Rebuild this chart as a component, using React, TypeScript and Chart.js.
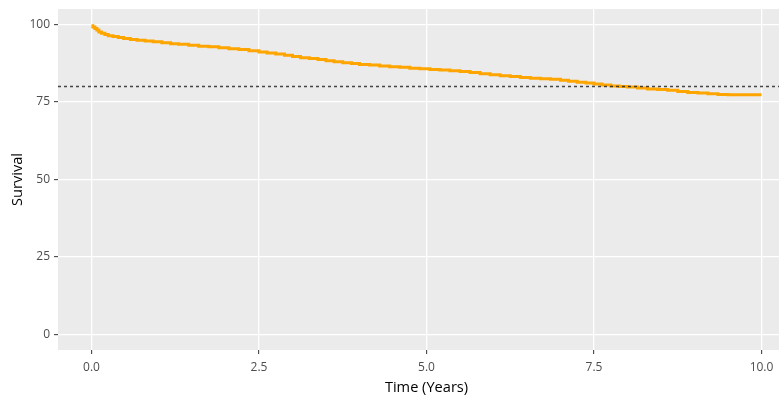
import React, { useEffect, useRef } from "react";
import { Chart, registerables } from "chart.js";

Chart.register(...registerables);

// Kaplan-Meier style survival curve (percent)
const timeYears = [
  0, 0.02, 0.05, 0.08, 0.11, 0.15, 0.2, 0.25, 0.32, 0.4, 0.48, 0.58, 0.68, 0.8, 0.92,
  1.05, 1.18, 1.3, 1.45, 1.6, 1.75, 1.9, 2.05, 2.2, 2.35, 2.5, 2.62, 2.75, 2.88, 3.0,
  3.12, 3.25, 3.38, 3.5, 3.62, 3.75, 3.88, 4.0, 4.15, 4.3, 4.45, 4.6, 4.75, 4.9, 5.05,
  5.2, 5.35, 5.5, 5.65, 5.8, 5.95, 6.1, 6.25, 6.4, 6.55, 6.7, 6.85, 7.0, 7.12, 7.25,
  7.38, 7.5, 7.62, 7.75, 7.88, 8.0, 8.15, 8.3, 8.45, 8.6, 8.75, 8.9, 9.05, 9.2, 9.35,
  9.5, 10.0,
];
const survival = [
  99.6, 99.2, 98.7, 98.2, 97.6, 97.2, 96.8, 96.4, 96.1, 95.8, 95.5, 95.2, 94.9, 94.7, 94.4,
  94.1, 93.8, 93.6, 93.3, 93.0, 92.8, 92.5, 92.2, 91.9, 91.5, 91.1, 90.8, 90.5, 90.1, 89.7,
  89.3, 89.0, 88.7, 88.3, 88.0, 87.7, 87.4, 87.1, 86.9, 86.6, 86.4, 86.2, 85.9, 85.7, 85.5,
  85.3, 85.1, 84.8, 84.5, 84.1, 83.8, 83.5, 83.2, 82.9, 82.7, 82.5, 82.3, 82.0, 81.7, 81.4,
  81.1, 80.8, 80.5, 80.2, 80.0, 79.8, 79.5, 79.2, 79.0, 78.8, 78.4, 78.1, 77.9, 77.7, 77.4,
  77.3, 77.3,
];
const referenceLine = 80;
const xRange = [-0.5, 10.5];
const yRange = [-5, 105];
const xTicks = [0, 2.5, 5, 7.5, 10];
const yTicks = [0, 25, 50, 75, 100];
const xTitle = "Time (Years)";
const yTitle = "Survival";

const FONT = "'Open Sans', 'Noto Sans', sans-serif";

const panelBg = {
  id: "panelBg",
  beforeDraw(chart: any) {
    const { ctx, chartArea } = chart;
    if (!chartArea) return;
    ctx.save();
    ctx.fillStyle = "#EBEBEB";
    ctx.fillRect(chartArea.left, chartArea.top, chartArea.right - chartArea.left, chartArea.bottom - chartArea.top);
    ctx.restore();
  },
};

export default function App() {
  const ref = useRef<HTMLCanvasElement | null>(null);

  useEffect(() => {
    document.body.style.margin = "0";
    const canvas = ref.current;
    if (!canvas) return;
    const chart = new Chart(canvas, {
      type: "line",
      data: {
        datasets: [
          {
            label: "ref",
            data: xRange.map((x) => ({ x, y: referenceLine })),
            borderColor: "rgba(40,40,40,0.85)",
            borderWidth: 1.5,
            borderDash: [3, 3],
            pointRadius: 0,
            fill: false,
          },
          {
            label: "survival",
            data: timeYears.map((t, i) => ({ x: t, y: survival[i] })),
            borderColor: "#FFA500",
            borderWidth: 3,
            stepped: true,
            pointRadius: 0,
            fill: false,
          },
        ],
      },
      options: {
        animation: false,
        responsive: false,
        devicePixelRatio: 1,
        layout: { padding: { top: 9, right: 0, left: 0, bottom: 0 } },
        plugins: { legend: { display: false }, tooltip: { enabled: false } },
        scales: {
          x: {
            type: "linear",
            min: xRange[0],
            max: xRange[1],
            afterBuildTicks: (s: any) => {
              s.ticks = xTicks.map((v) => ({ value: v }));
            },
            afterFit: (s: any) => {
              s.height = 45;
              s.paddingLeft = 0;
              s.paddingRight = 0;
            },
            border: { display: false },
            grid: { color: "#FFFFFF", lineWidth: 1.3, tickColor: "#333333", tickLength: 4, tickWidth: 1 },
            ticks: {
              color: "#4D4D4D",
              font: { family: FONT, size: 12 },
              padding: 6,
              maxRotation: 0,
              callback: (v: any) => Number(v).toFixed(1),
            },
            title: {
              display: true,
              text: xTitle,
              color: "#000000",
              font: { family: FONT, size: 14.6 },
              padding: { top: 0, bottom: -2 },
            },
          },
          y: {
            type: "linear",
            min: yRange[0],
            max: yRange[1],
            afterBuildTicks: (s: any) => {
              s.ticks = yTicks.map((v) => ({ value: v }));
            },
            afterFit: (s: any) => {
              s.width = 58;
              s.paddingTop = 0;
              s.paddingBottom = 0;
            },
            border: { display: false },
            grid: { color: "#FFFFFF", lineWidth: 1.3, tickColor: "#333333", tickLength: 4, tickWidth: 1 },
            ticks: {
              color: "#4D4D4D",
              font: { family: FONT, size: 12 },
              padding: 4,
              callback: (v: any) => String(v),
            },
            title: {
              display: true,
              text: yTitle,
              color: "#000000",
              font: { family: FONT, size: 14.6 },
              padding: { top: 9, bottom: 0 },
            },
          },
        },
      },
      plugins: [panelBg],
    });
    return () => chart.destroy();
  }, []);

  return (
    <div style={{ width: 779, height: 395, overflow: "hidden", background: "#fff" }}>
      <canvas ref={ref} width={795} height={395} style={{ display: "block" }} />
    </div>
  );
}
